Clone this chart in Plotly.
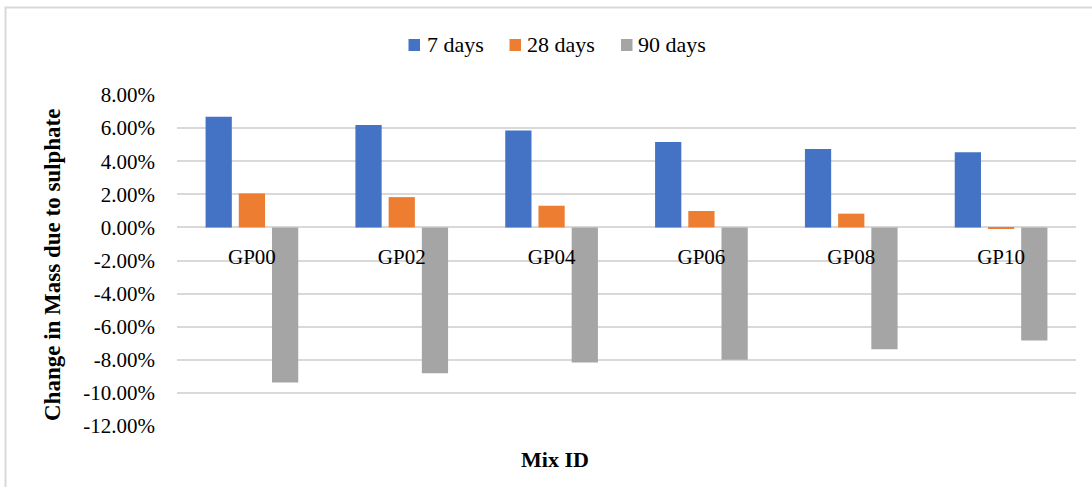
import plotly.graph_objects as go

mix_ids = ["GP00", "GP02", "GP04", "GP06", "GP08", "GP10"]
days_7 = [6.69, 6.19, 5.85, 5.16, 4.74, 4.54]
days_28 = [2.05, 1.83, 1.31, 0.99, 0.83, -0.06]
days_90 = [-9.37, -8.81, -8.17, -8.00, -7.36, -6.83]
series_names = ["7 days", "28 days", "90 days"]
series_colors = ["#4472C4", "#ED7D31", "#A5A5A5"]
y_ticks = [8, 6, 4, 2, 0, -2, -4, -6, -8, -10, -12]
y_tick_text = [f"{v:.2f}%" for v in y_ticks]

FONT = "Liberation Serif"

fig = go.Figure()
for name, vals, col in zip(series_names, [days_7, days_28, days_90], series_colors):
    fig.add_trace(go.Bar(x=mix_ids, y=vals, name=name,
                         marker=dict(color=col, line=dict(width=0))))

L, R, T, B = 177, 16, 95, 61
W, H = 1092, 487
pw, ph = W - L - R, H - T - B

def px_x(x):
    return (x - L) / pw

def px_y(y):
    return (H - B - y) / ph

# manual legend (symbol left x, text left x) in pixels
legend_sym_x = [408.5, 509.5, 621]
legend_txt_x = [425, 525, 636]
legend_y = 45

shapes = [dict(type="rect", xref="paper", yref="paper",
               x0=px_x(5.5), x1=px_x(1120), y0=px_y(520), y1=px_y(7.5),
               line=dict(color="#d9d9d9", width=2), layer="below")]
annotations = [
    dict(text="<b>Change in Mass due to sulphate</b>", xref="paper", yref="paper",
         x=px_x(52), y=px_y(265), textangle=-90, showarrow=False,
         font=dict(family=FONT, size=23, color="#000000"),
         xanchor="center", yanchor="middle"),
    dict(text="<b>Mix ID</b>", xref="paper", yref="paper",
         x=px_x(555), y=px_y(459), showarrow=False,
         font=dict(family=FONT, size=22, color="#000000"),
         xanchor="center", yanchor="middle"),
]
for name, col, sx, tx in zip(series_names, series_colors, legend_sym_x, legend_txt_x):
    shapes.append(dict(type="rect", xref="paper", yref="paper",
                       x0=px_x(sx), x1=px_x(sx + 11.5),
                       y0=px_y(legend_y + 6), y1=px_y(legend_y - 6),
                       fillcolor=col, line=dict(width=0)))
    annotations.append(dict(text=name, xref="paper", yref="paper",
                            x=px_x(tx), y=px_y(legend_y), showarrow=False,
                            xanchor="left", yanchor="middle",
                            font=dict(family=FONT, size=22, color="#000000")))

fig.update_layout(
    width=W, height=H,
    margin=dict(l=L, r=R, t=T, b=B, autoexpand=False),
    paper_bgcolor="white", plot_bgcolor="white",
    barmode="group", bargap=0.335, bargroupgap=0.21,
    font=dict(family=FONT, size=21, color="#000000"),
    showlegend=False,
    xaxis=dict(anchor="free", position=12 / 20, side="bottom",
               showline=False, ticks="", showgrid=False,
               tickfont=dict(family=FONT, size=21, color="#000000"),
               ticklabelstandoff=15, zeroline=False),
    yaxis=dict(range=[-12, 8], tickvals=y_ticks, ticktext=y_tick_text,
               showgrid=True, gridcolor="#d9d9d9", gridwidth=1.5,
               zeroline=True, zerolinecolor="#d9d9d9", zerolinewidth=1.5,
               showline=False, ticks="", ticklabelstandoff=21,
               tickfont=dict(family=FONT, size=21, color="#000000")),
    shapes=shapes,
    annotations=annotations,
)

fig.write_html("out.html", config={"displayModeBar": False},
               post_script="document.body.style.margin='0';document.body.style.padding='0';")
